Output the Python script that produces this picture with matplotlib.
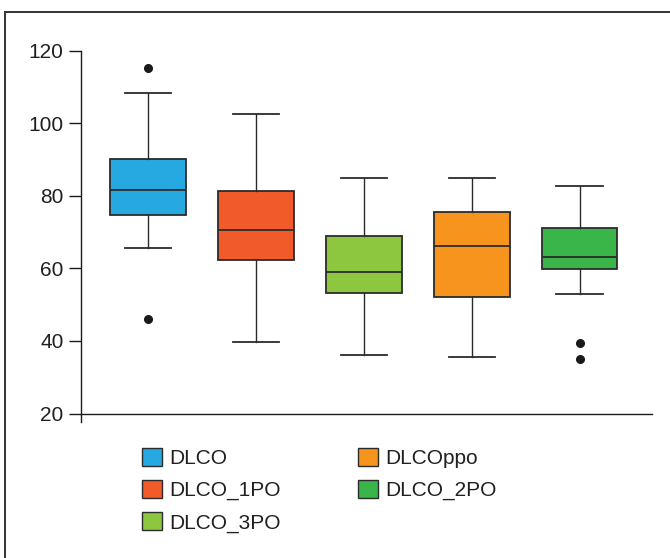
import matplotlib
matplotlib.use("Agg")
import matplotlib.pyplot as plt
from matplotlib.patches import Patch
from matplotlib.lines import Line2D

plt.rcParams['font.family'] = ['Liberation Sans', 'DejaVu Sans']

categories = ["DLCO", "DLCO_1PO", "DLCO_3PO", "DLCOppo", "DLCO_2PO"]
colors = ["#25A9E0", "#F15A29", "#8DC63F", "#F7941D", "#39B54A"]
whisker_low = [65.6, 39.8, 36.2, 35.5, 53.0]
q1 = [74.6, 62.2, 53.3, 52.2, 59.9]
median = [81.6, 70.6, 58.9, 66.1, 63.2]
q3 = [90.1, 81.2, 68.8, 75.5, 71.1]
whisker_high = [108.4, 102.5, 84.8, 84.8, 82.6]
outliers = [[115.2, 46.0], [], [], [], [39.5, 35.0]]
yticks = [20, 40, 60, 80, 100, 120]

W, H = 670, 558
fig = plt.figure(figsize=(W / 100, H / 100), dpi=100)
ax = fig.add_axes([81 / W, 1 - 421.5 / H, (652 - 81) / W, 371 / H])

stats = []
for i, name in enumerate(categories):
    stats.append(dict(label=name, whislo=whisker_low[i], q1=q1[i], med=median[i],
                      q3=q3[i], whishi=whisker_high[i], fliers=outliers[i]))

edge = "#2b2b2b"
bp = ax.bxp(stats, positions=range(1, 6), widths=0.70, capwidths=0.43,
            patch_artist=True, showfliers=True,
            boxprops=dict(edgecolor=edge, linewidth=1.3),
            medianprops=dict(color=edge, linewidth=1.3),
            whiskerprops=dict(color=edge, linewidth=1.0),
            capprops=dict(color=edge, linewidth=1.3),
            flierprops=dict(marker='o', markerfacecolor='#1a1a1a',
                            markeredgecolor='#1a1a1a', markersize=5.5))
for patch, c in zip(bp['boxes'], colors):
    patch.set_facecolor(c)

ax.set_xlim(0.38, 5.67)
ax.set_ylim(17.8, 120)
ax.set_yticks(yticks)
ax.set_xticks([])
for s in ['top', 'right', 'bottom']:
    ax.spines[s].set_visible(False)
ax.spines['left'].set_color('#1a1a1a')
ax.spines['left'].set_linewidth(1.0)
ax.tick_params(axis='y', direction='out', length=8.6, width=1.0, color='#1a1a1a',
               pad=4, labelsize=15, labelcolor='#231f20')
ax.plot([0.38, 5.67], [20, 20], color='#1a1a1a', linewidth=1.0, clip_on=False)

handles = [Patch(facecolor=c, edgecolor=edge, linewidth=1.0) for c in colors]
leg = fig.legend(handles, categories, ncol=2, loc='upper left',
                 bbox_to_anchor=(142 / W, 1 - 448 / H), frameon=False,
                 fontsize=15, handlelength=0.96, handleheight=0.92,
                 handletextpad=0.35, columnspacing=3.7, labelspacing=0.58,
                 borderpad=0, borderaxespad=0)
for t in leg.get_texts():
    t.set_color('#231f20')

# outer frame
fig.add_artist(Line2D([5 / W, 1.0], [1 - 11.5 / H, 1 - 11.5 / H], transform=fig.transFigure,
                      color='#333333', linewidth=1.4))
fig.add_artist(Line2D([5 / W, 5 / W], [0.0, 1 - 11.5 / H], transform=fig.transFigure,
                      color='#333333', linewidth=1.4))

fig.savefig("out.png", dpi=100)
